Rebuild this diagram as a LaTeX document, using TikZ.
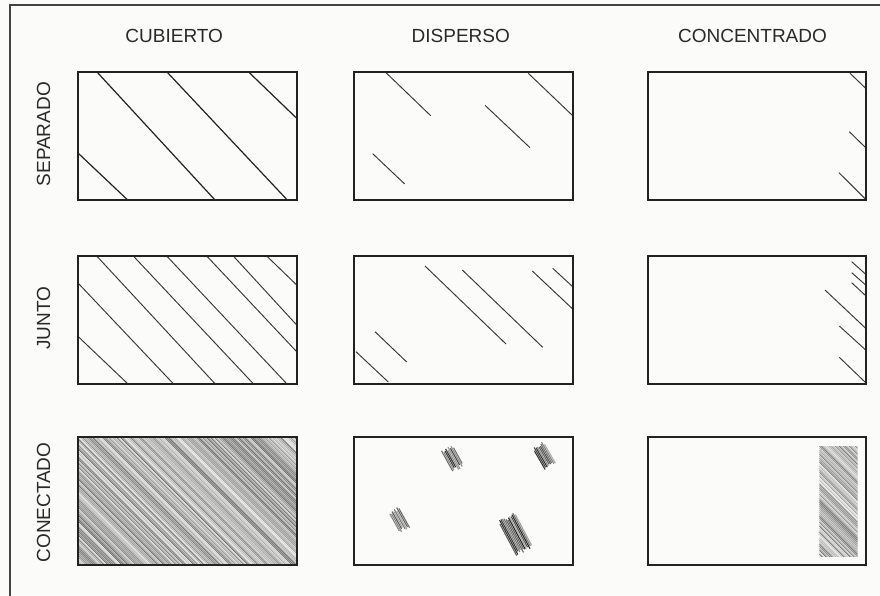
\documentclass[tikz,border=0pt]{standalone}
\usepackage{fontspec}
\setmainfont{Liberation Sans}
\definecolor{ink}{HTML}{222222}
\definecolor{txt}{HTML}{2A2A2A}
\definecolor{bg}{HTML}{FBFBF9}
\begin{document}
\newcommand\densefill[4]{%
 \pgfmathsetmacro\dfa{#1-(#4-#2)-4}%
 \pgfmathtruncatemacro\dfn{((#3-#1)+(#4-#2)+8)/2}%
 \scoped{\clip (#1,#2) rectangle (#3,#4);
 \foreach \i in {0,...,\dfn}{
   \pgfmathrandominteger{\g}{15}{75}
   \draw[black!\g,line width=0.7pt] ({\dfa+\i*2},{#2-2}) -- ++({#4-#2+4},{#4-#2+4});
 }}}
\newcommand\hatchpatch[5]{%
 \pgfmathtruncatemacro\pn{#4/1.5}%
 \scoped[shift={(#1,#2)},rotate=#5]{
 \foreach \j in {0,...,\pn}{
   \pgfmathsetmacro\pv{-#4/2+\j*1.5}
   \pgfmathsetmacro\ua{-#3/2+rnd*4}
   \pgfmathsetmacro\ub{#3/2-rnd*4}
   \pgfmathrandominteger{\g}{30}{85}
   \draw[black!\g,line width=1.1pt] (\ua,\pv) -- (\ub,\pv);
 }}}
\begin{tikzpicture}[x=1pt,y=-1pt,
  box/.style={draw=ink,line width=1.7pt},
  hatchA/.style={draw=ink,line width=1.2pt},
  hatchB/.style={draw=ink!90,line width=0.95pt},
  lbl/.style={text=txt,font=\fontsize{19}{22}\selectfont,inner sep=0pt,anchor=base},
  frameline/.style={draw=ink!85,line width=2.6pt}]
\fill[bg] (0,0) rectangle (880,596);
\useasboundingbox (0,0) rectangle (880,596);
\pgfmathsetseed{11}
\draw[frameline] (10,600) -- (10,5) -- (884,5);
% column labels
\node[lbl] (cub) at (174.2,42.7) {CUBIERTO};
\node[lbl] (dis) at (460.8,42.7) {DISPERSO};
\node[lbl] (con) at (752.5,42.7) {CONCENTRADO};
% row labels
\node[lbl,rotate=90] (sep) at (50,134.2) {SEPARADO};
\node[lbl,rotate=90] (jun) at (50,318.3) {JUNTO};
\node[lbl,rotate=90] (cnt) at (50,502.5) {CONECTADO};
% ---------- row 1 ----------
\draw[hatchA] (78.3,153.3) -- (127.7,200);
\draw[hatchA] (96.7,71.7) -- (215,200);
\draw[hatchA] (166.7,71.7) -- (287.3,200);
\draw[hatchA] (248.3,71.7) -- (296.7,118.3);
\draw[hatchB] (386,72.7) -- (430.7,115.7);
\draw[hatchB] (528.3,73.3) -- (572.7,115.7);
\draw[hatchB] (485,105.3) -- (530,147.7);
\draw[hatchB] (372.7,153.7) -- (404.7,184);
\draw[hatchB] (850,73.3) -- (865.7,88.3);
\draw[hatchB] (849.3,131.7) -- (865.7,147.7);
\draw[hatchB] (839,172.7) -- (865.7,199.3);
% ---------- row 2 ----------
\draw[hatchB] (78.3,336.7) -- (127.7,383.7);
\draw[hatchB] (78.3,283.3) -- (173.3,383.7);
\draw[hatchB] (96.7,256) -- (215,383.7);
\draw[hatchB] (133.3,256) -- (253.3,383.7);
\draw[hatchB] (166.7,256) -- (286.7,383.7);
\draw[hatchB] (206.7,256) -- (296.7,351.7);
\draw[hatchB] (233.3,256) -- (296.7,325);
\draw[hatchB] (266.7,256) -- (296.7,285);
\draw[hatchB] (425,266) -- (506,344);
\draw[hatchB] (462.3,270) -- (542.7,347.3);
\draw[hatchB] (532.3,271) -- (572.7,309);
\draw[hatchB] (552.7,268.3) -- (572.7,286.7);
\draw[hatchB] (375,331.7) -- (406.7,362);
\draw[hatchB] (356,351.7) -- (388.3,382);
\draw[hatchB] (851.7,261.7) -- (865.7,274.3);
\draw[hatchB] (851.7,272.7) -- (865.7,285);
\draw[hatchB] (851.7,282.7) -- (865.7,295.7);
\draw[hatchB] (825,290) -- (865.7,328.3);
\draw[hatchB] (839.3,326) -- (865.7,350);
\draw[hatchB] (839.3,357.3) -- (865.7,382.7);
% ---------- row 3 ----------
\densefill{78.3}{436.7}{296.7}{565}
\densefill{819.3}{446}{857.7}{556}
\hatchpatch{452.7}{458.7}{25}{12}{-61}
\hatchpatch{543.7}{456}{26}{13}{-60}
\hatchpatch{399}{520}{24}{11}{-61}
\hatchpatch{515}{534.3}{40}{19}{-62}
% ---------- boxes ----------
\foreach \r/\ya/\yb in {1/71.7/200, 2/255.7/383.7, 3/436.7/565}{
  \draw[box] (78.3,\ya) rectangle (296.7,\yb);
  \draw[box] (354.3,\ya) rectangle (573.3,\yb);
  \draw[box] (647.7,\ya) rectangle (866,\yb);
}
\end{tikzpicture}
\end{document}
